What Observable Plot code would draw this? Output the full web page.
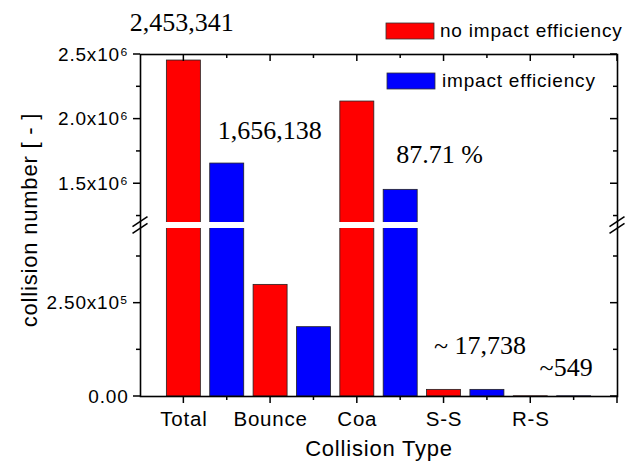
<!DOCTYPE html>
<html>
<head>
<meta charset="utf-8">
<script src="https://cdn.jsdelivr.net/npm/d3@7"></script>
<script src="https://cdn.jsdelivr.net/npm/@observablehq/plot@0.6"></script>
<style>
  html, body { margin: 0; padding: 0; background: #fff; }
  #chart svg text { letter-spacing: 0.8px; }
  #chart svg g[font-family="Liberation Serif"] text { letter-spacing: 0; }
</style>
</head>
<body>
<div id="chart"></div>
<script>
// Collision counts per collision type, with and without impact efficiency
const categories = ["Total", "Bounce", "Coa", "S-S", "R-S"];
const noImpact = [2453341, 299000, 2136000, 17738, 549];
const withImpact = [1656138, 185700, 1452600, 17738, 549];
const seriesNames = ["no impact efficiency", "impact efficiency"];
const seriesColors = ["#ff0000", "#0000ff"];

// value annotations written above the bars
const annotationTexts = ["2,453,341", "1,656,138", "87.71 %", "~ 17,738", "~549"];

// broken y axis: lower segment 0..breakLow, upper segment breakHigh..yMax
const breakLow = 450000;
const breakHigh = 1200000;
const yMax = 2500000;
const yMajor = [0, 250000, 1500000, 2000000, 2500000];
const yMajorLabels = ["0.00", "2.50x10⁵", "1.5x10⁶", "2.0x10⁶", "2.5x10⁶"];
const yMinor = [125000, 375000, 1250000, 1750000, 2250000];

// category slots: red bar at i, blue bar at i + 0.5
const xMajor = [0, 1, 2, 3, 4, 5];
const xMinor = [0.5, 1.5, 2.5, 3.5, 4.5];
const halfBar = 0.196;

const majorLen = 7, minorLen = 4;

const bars = categories.flatMap((c, i) => [
  {i, s: 0, v: noImpact[i]},
  {i, s: 1, v: withImpact[i]}
]);
const slot = d => d.i + d.s * 0.5;

function annotation(k, i, s, dx, dy) {
  const v = (s === 0 ? noImpact : withImpact)[i];
  return Plot.text([{i, s, v, t: annotationTexts[k]}], {
    x: slot, y: "v", text: "t", dx, dy,
    fontFamily: "Liberation Serif", fontSize: 26, fill: "black"
  });
}

// frame ticks (outward on bottom/left, inward on top/right), axis-break slashes and the legend
function frameDecorations(index, scales, values, dimensions) {
  const {width, height, marginLeft, marginRight, marginTop, marginBottom} = dimensions;
  const left = marginLeft, right = width - marginRight;
  const top = marginTop, bottom = height - marginBottom;
  const g = d3.create("svg:g").attr("stroke", "black").attr("stroke-width", 1.5);

  const line = (x1, y1, x2, y2) =>
    g.append("line").attr("x1", x1).attr("y1", y1).attr("x2", x2).attr("y2", y2);

  for (const [vals, len] of [[xMajor, majorLen], [xMinor, minorLen]]) {
    for (const v of vals) {
      const px = scales.x(v);
      line(px, bottom, px, bottom + len);
      line(px, top, px, top + len);
    }
  }
  for (const [vals, len] of [[yMajor, majorLen], [yMinor, minorLen]]) {
    for (const v of vals) {
      const py = scales.y(v);
      line(left - len, py, left, py);
      line(right - len, py, right, py);
    }
  }

  const yMid = (scales.y(breakLow) + scales.y(breakHigh)) / 2;
  for (const xv of [-0.5, 5]) {
    const cx = scales.x(xv);
    for (const off of [-3.3, 3.3]) {
      line(cx - 7.5, yMid + off + 5, cx + 7.5, yMid + off - 5).attr("stroke-width", 1.6);
    }
  }

  const rows = [31, 81];
  seriesNames.forEach((name, k) => {
    const yc = rows[k];
    g.append("rect")
      .attr("x", right - 231 + k).attr("y", yc - 8)
      .attr("width", 48).attr("height", 16)
      .attr("fill", seriesColors[k]).attr("stroke", "#333").attr("stroke-width", 0.8);
    g.append("text")
      .attr("x", right - 177 + k * 2).attr("y", yc).attr("dy", "0.32em")
      .attr("text-anchor", "start")
      .attr("stroke", "none")
      .attr("font-family", "'Liberation Sans', Arial, sans-serif")
      .attr("font-size", 19).attr("fill", "black")
      .text(name);
  });
  return g.node();
}

const chart = Plot.plot({
  width: 628,
  height: 465,
  marginLeft: 140,
  marginRight: 11,
  marginTop: 54,
  marginBottom: 69,
  style: {fontFamily: "'Liberation Sans', Arial, sans-serif", fontSize: "19px", background: "#fff", color: "black"},
  x: {type: "linear", domain: [-0.5, 5]},
  y: {type: "linear", domain: [0, breakLow, breakHigh, yMax], range: [396, 228, 222, 54]},
  marks: [
    Plot.rect(bars, {
      x1: d => slot(d) - halfBar,
      x2: d => slot(d) + halfBar,
      y1: 0,
      y2: "v",
      fill: d => seriesColors[d.s],
      stroke: "#222",
      strokeWidth: 0.8
    }),
    // white band cutting the bars at the axis break
    Plot.rect([{}], {x1: -0.5, x2: 5, y1: breakLow, y2: breakHigh, fill: "white"}),
    Plot.frame({stroke: "black", strokeWidth: 1.6}),
    // tick labels
    Plot.axisX({ticks: xMajor.slice(0, 5), tickSize: 0, tickPadding: 15, tickFormat: i => categories[i], label: null, fontSize: 20.5}),
    Plot.axisY({ticks: yMajor, tickSize: 0, tickPadding: 12, tickFormat: v => yMajorLabels[yMajor.indexOf(v)], label: null, fontSize: 19}),
    // axis titles
    Plot.text(["Collision Type"], {text: d => d, frameAnchor: "bottom", textAnchor: "middle", lineAnchor: "middle", dy: 52, fontSize: 22}),
    Plot.text(["collision number [ - ]"], {text: d => d, frameAnchor: "left", textAnchor: "middle", lineAnchor: "middle", rotate: -90, dx: -111, dy: -5.5, fontSize: 22}),
    // value annotations
    annotation(0, 0, 0, -2, -38.3),
    annotation(1, 0, 1, 42.5, -33.2),
    annotation(2, 2, 1, 39, -35.4),
    annotation(3, 3, 1, -7.5, -44.7),
    annotation(4, 4, 1, -8, -29.1),
    frameDecorations
  ]
});

document.getElementById("chart").append(chart);
</script>
</body>
</html>
